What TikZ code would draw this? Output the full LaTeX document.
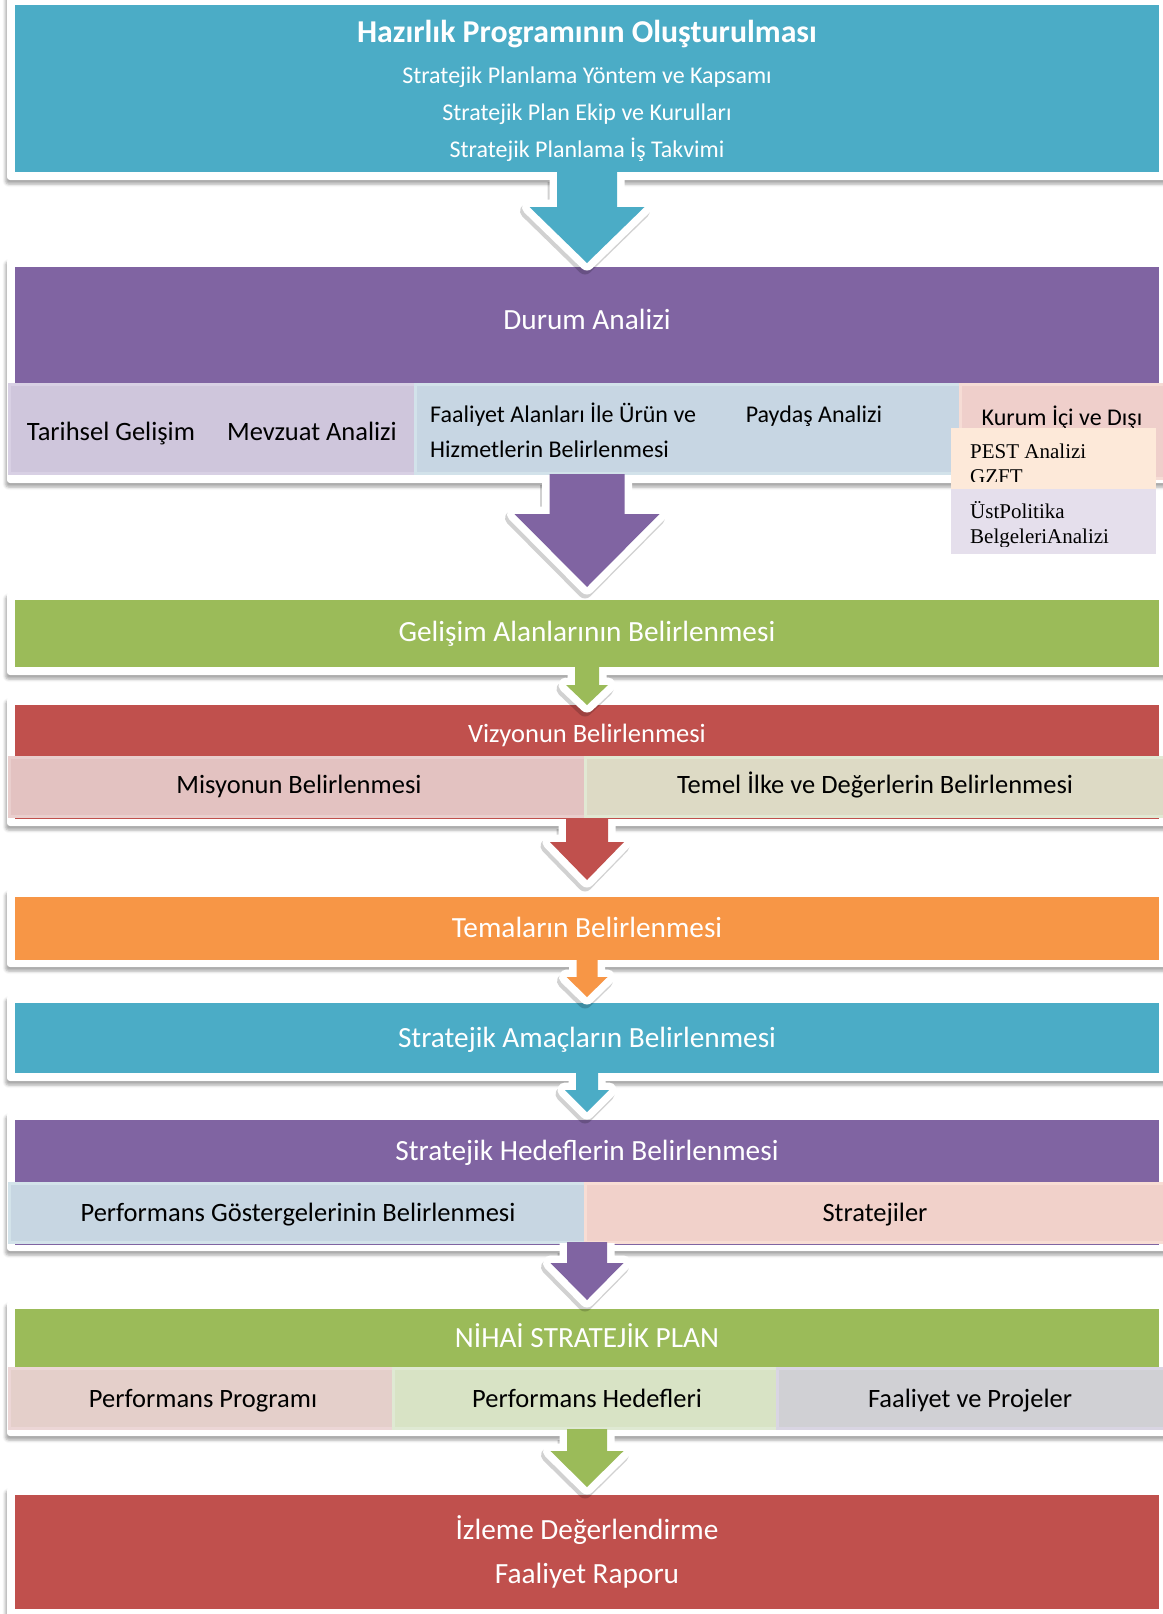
\documentclass[tikz,border=0pt]{standalone}
\usepackage{fontspec}
\setmainfont{Carlito}
\newfontfamily\pestfont{Liberation Serif}
\usetikzlibrary{shadows.blur}
\definecolor{cblue}{HTML}{4BACC6}
\definecolor{cpurple}{HTML}{8064A2}
\definecolor{cgreen}{HTML}{9BBB59}
\definecolor{cred}{HTML}{C0504D}
\definecolor{corange}{HTML}{F79646}
\tikzset{
  frame/.style={fill=white, rounded corners=3pt,
    blur shadow={shadow xshift=-1.5pt, shadow yshift=-4pt, shadow blur radius=3pt, shadow opacity=35}},
  ttl/.style={font=\fontsize{29.3}{34}\selectfont, text=white, anchor=base, inner sep=0pt},
  sub/.style={font=\fontsize{26.5}{31}\selectfont, text=black, anchor=base, inner sep=0pt},
  small/.style={font=\fontsize{24}{29}\selectfont, text=black, anchor=base, inner sep=0pt},
  pest/.style={font=\pestfont\fontsize{21}{25}\selectfont, text=black, anchor=base west, inner sep=0pt},
  subbox/.style={line width=3pt},
}
% #1 colour, #2 top, #3 head top, #4 tip, #5 shaft half width, #6 head half width
\newcommand{\flowarrow}[6]{%
  \draw[line width=15pt, black, opacity=0.18, line join=round, shift={(-2,4)}]
    (587-#5,#2+6) -- (587-#5,#3) -- (587-#6,#3) -- (587,#4) -- (587+#6,#3) -- (587+#5,#3) -- (587+#5,#2+6);
  \draw[line width=15pt, white, line join=round]
    (587-#5,#2) -- (587-#5,#3) -- (587-#6,#3) -- (587,#4) -- (587+#6,#3) -- (587+#5,#3) -- (587+#5,#2);
  \fill[#1] (587-#5,#2-1) -- (587-#5,#3) -- (587-#6,#3) -- (587,#4) -- (587+#6,#3) -- (587+#5,#3) -- (587+#5,#2-1) -- cycle;
}
\begin{document}
\begin{tikzpicture}[x=1pt,y=-1pt]
\useasboundingbox (0,0) rectangle (1162,1614);

% ---------- Panel 1
\path[frame] (7,-10) rectangle (1185,180);
\fill[cblue] (15,5) rectangle (1159,172);
\node[ttl, font=\bfseries\fontsize{31.8}{37}\selectfont] (p1) at (587,42) {Hazırlık Programının Oluşturulması};
\node[small, text=white] (p1a) at (587,83) {Stratejik Planlama Yöntem ve Kapsamı};
\node[small, text=white] (p1b) at (587,120) {Stratejik Plan Ekip ve Kurulları};
\node[small, text=white] (p1c) at (587,157) {Stratejik Planlama İş Takvimi};

% ---------- Panel 2
\path[frame] (7,258) rectangle (1185,483);
\fill[cpurple] (15,267) rectangle (1159,383);
\node[ttl] (p2) at (587,329) {Durum Analizi};
\draw[subbox, fill={rgb,255:red,207;green,198;blue,220}, draw={rgb,255:red,216;green,208;blue,228}] (9,384) rectangle (415,473);
\draw[subbox, fill={rgb,255:red,199;green,214;blue,227}, draw={rgb,255:red,210;green,226;blue,234}] (415,384) rectangle (960,473);
\draw[subbox, fill={rgb,255:red,239;green,207;blue,203}, draw={rgb,255:red,246;green,220;blue,213}] (960,384) rectangle (1166,478);
\node[sub] (p2a) at (111,440) {Tarihsel Gelişim};
\node[sub] (p2b) at (312,440) {Mevzuat Analizi};
\node[small, anchor=base west] (p2c) at (430,422) {Faaliyet Alanları İle Ürün ve};
\node[small, anchor=base west] (p2d) at (430,457) {Hizmetlerin Belirlenmesi};
\node[small] (p2e) at (814,422) {Paydaş Analizi};
\node[small] (p2f) at (1062,425) {Kurum İçi ve Dışı};
\fill[fill={rgb,255:red,253;green,233;blue,217}] (951,428) rectangle (1156,489);
\fill[fill={rgb,255:red,229;green,223;blue,236}] (951,489) rectangle (1156,554);
\begin{scope}
  \clip (951,428) rectangle (1156,481);
  \node[pest] (pa) at (970,458) {PEST Analizi};
  \node[pest] (pb) at (970,483) {GZFT};
\end{scope}
\begin{scope}
  \clip (951,489) rectangle (1156,546);
  \node[pest] (pc) at (970,518) {ÜstPolitika};
  \node[pest] (pd) at (970,543) {BelgeleriAnalizi};
\end{scope}

% ---------- Panel 3
\path[frame] (7,592) rectangle (1185,675);
\fill[cgreen] (15,600) rectangle (1159,667);
\node[ttl] (p3) at (587,641) {Gelişim Alanlarının Belirlenmesi};

% ---------- Panel 4
\path[frame] (7,697) rectangle (1185,826);
\fill[cred] (15,705) rectangle (1159,819);
\node[ttl, font=\fontsize{26.5}{31}\selectfont] (p4) at (587,742) {Vizyonun Belirlenmesi};
\draw[subbox, fill={rgb,255:red,227;green,194;blue,193}, draw={rgb,255:red,233;green,206;blue,205}] (9,757) rectangle (585,816);
\draw[subbox, fill={rgb,255:red,221;green,218;blue,197}, draw={rgb,255:red,225;green,232;blue,211}] (585,757) rectangle (1166,816);
\node[sub] (p4a) at (299,793) {Misyonun Belirlenmesi};
\node[sub] (p4b) at (875,793) {Temel İlke ve Değerlerin Belirlenmesi};

% ---------- Panel 5
\path[frame] (7,889) rectangle (1185,967);
\fill[corange] (15,897) rectangle (1159,960);
\node[ttl] (p5) at (587,937) {Temaların Belirlenmesi};

% ---------- Panel 6
\path[frame] (7,995) rectangle (1185,1081);
\fill[cblue] (15,1003) rectangle (1159,1073);
\node[ttl] (p6) at (587,1047) {Stratejik Amaçların Belirlenmesi};

% ---------- Panel 7
\path[frame] (7,1112) rectangle (1185,1251);
\fill[cpurple] (15,1120) rectangle (1159,1245);
\node[ttl] (p7) at (587,1160) {Stratejik Hedeflerin Belirlenmesi};
\draw[subbox, fill={rgb,255:red,199;green,214;blue,226}, draw={rgb,255:red,211;green,227;blue,234}] (9,1183) rectangle (585,1242);
\draw[subbox, fill={rgb,255:red,241;green,209;blue,202}, draw={rgb,255:red,248;green,221;blue,212}] (585,1183) rectangle (1166,1242);
\node[sub] (p7a) at (298,1221) {Performans Göstergelerinin Belirlenmesi};
\node[sub] (p7b) at (875,1221) {Stratejiler};

% ---------- Panel 8
\path[frame] (7,1301) rectangle (1185,1436);
\fill[cgreen] (15,1309) rectangle (1159,1430);
\node[ttl] (p8) at (587,1347) {NİHAİ STRATEJİK PLAN};
\draw[subbox, fill={rgb,255:red,228;green,207;blue,202}, draw={rgb,255:red,236;green,214;blue,214}] (9,1368) rectangle (393,1428);
\draw[subbox, fill={rgb,255:red,216;green,227;blue,197}, draw={rgb,255:red,223;green,233;blue,211}] (393,1368) rectangle (777,1428);
\draw[subbox, fill={rgb,255:red,208;green,208;blue,212}, draw={rgb,255:red,217;green,213;blue,227}] (777,1368) rectangle (1166,1428);
\node[sub] (p8a) at (203,1407) {Performans Programı};
\node[sub] (p8b) at (587,1407) {Performans Hedefleri};
\node[sub] (p8c) at (970,1407) {Faaliyet ve Projeler};

% ---------- Panel 9
\path[frame] (7,1487) rectangle (1185,1618);
\fill[cred] (15,1495) rectangle (1159,1609);
\node[ttl] (p9a) at (587,1539) {İzleme Değerlendirme};
\node[ttl] (p9b) at (587,1583) {Faaliyet Raporu};

% ---------- Arrows
\flowarrow{cblue}{172}{207}{263}{30}{57.5}
\flowarrow{cpurple}{475}{514}{587}{37.5}{72.5}
\flowarrow{cgreen}{667}{685}{705}{12}{21}
\flowarrow{cred}{819}{842}{880}{21}{37}
\flowarrow{corange}{960}{977}{997}{10.5}{20.5}
\flowarrow{cblue}{1073}{1090}{1112}{11}{22}
\flowarrow{cpurple}{1243}{1263}{1300}{20}{36.5}
\flowarrow{cgreen}{1430}{1451}{1487}{20}{36.5}
\end{tikzpicture}
\end{document}
